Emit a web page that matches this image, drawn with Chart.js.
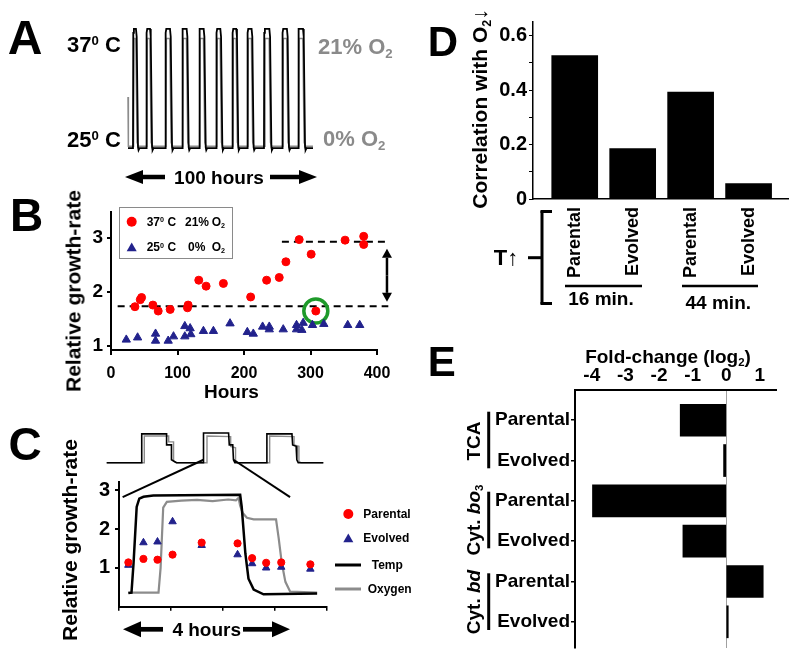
<!DOCTYPE html>
<html>
<head>
<meta charset="utf-8">
<script src="https://cdn.jsdelivr.net/npm/chart.js@4.4.0/dist/chart.umd.min.js"></script>
<style>
body { margin: 0; background: #fff; }
#fig { position: relative; width: 800px; height: 662px; overflow: hidden; font-family: "Liberation Sans", Arial, sans-serif; font-weight: bold; color: #000; }
#fig canvas { position: absolute; }
.t, .l, .v { position: absolute; white-space: nowrap; line-height: 1; z-index: 5; }
.t { transform: translate(-50%, -50%); }
.l { transform: translate(0, -50%); }
.v { transform: translate(-50%, -50%) rotate(-90deg); }
.up { position: relative; top: -0.5em; font-size: 60%; }
.dn { position: relative; top: 0.3em; font-size: 60%; }
.gray { color: #8a8a8a; }
</style>
</head>
<body>
<div id="fig">
  <canvas id="chartA" width="210" height="170" style="left:120px;top:0px"></canvas>
  <canvas id="chartB" width="380" height="210" style="left:40px;top:195px"></canvas>
  <canvas id="chartInset" width="230" height="45" style="left:100px;top:425px"></canvas>
  <canvas id="chartC" width="300" height="190" style="left:40px;top:465px"></canvas>
  <canvas id="chartD" width="330" height="310" style="left:470px;top:0px"></canvas>
  <canvas id="chartE" width="330" height="317" style="left:470px;top:345px"></canvas>
  <canvas id="decor" width="800" height="662" style="left:0;top:0;z-index:4"></canvas>

  <!-- panel A -->
  <div class="t" style="left:25px;top:37.5px;font-size:48px">A</div>
  <div class="t" style="left:94px;top:45px;font-size:22px">37<span class="up">0</span> C</div>
  <div class="t" style="left:94px;top:140px;font-size:22px">25<span class="up">0</span> C</div>
  <div class="l gray" style="left:318px;top:46.7px;font-size:22px">21% O<span class="dn">2</span></div>
  <div class="l gray" style="left:323px;top:139px;font-size:22px">0% O<span class="dn">2</span></div>
  <div class="t" style="left:219px;top:177px;font-size:19px">100 hours</div>

  <!-- panel B -->
  <div class="t" style="left:26.5px;top:215px;font-size:46px">B</div>
  <div class="v" style="left:73px;top:291px;font-size:21px">Relative growth-rate</div>
  <div class="t" style="left:231.5px;top:391px;font-size:19px">Hours</div>
  <div class="l" style="left:146.7px;top:221.7px;font-size:12px">37<span class="up">0</span> C</div>
  <div class="l" style="left:185px;top:221.7px;font-size:12px">21%</div>
  <div class="l" style="left:211.7px;top:221.7px;font-size:12px">O<span class="dn">2</span></div>
  <div class="l" style="left:146.7px;top:247.3px;font-size:12px">25<span class="up">0</span> C</div>
  <div class="l" style="left:188px;top:247.3px;font-size:12px">0%</div>
  <div class="l" style="left:211.7px;top:247.3px;font-size:12px">O<span class="dn">2</span></div>

  <!-- panel C -->
  <div class="t" style="left:25px;top:443.5px;font-size:46px">C</div>
  <div class="v" style="left:69.4px;top:540px;font-size:21px">Relative growth-rate</div>
  <div class="t" style="left:206.7px;top:629.3px;font-size:19px">4 hours</div>
  <div class="l" style="left:363.3px;top:514px;font-size:12px">Parental</div>
  <div class="l" style="left:363.3px;top:538.3px;font-size:12px">Evolved</div>
  <div class="l" style="left:371.7px;top:565px;font-size:12px">Temp</div>
  <div class="l" style="left:367.7px;top:589px;font-size:12px">Oxygen</div>

  <!-- panel D -->
  <div class="t" style="left:443px;top:41.5px;font-size:42px">D</div>
  <div class="v" style="left:479.4px;top:109px;font-size:21px">Correlation with O<span class="dn">2</span>↓</div>
  <div class="t" style="left:506px;top:257.5px;font-size:22px">T↑</div>
  <div class="t" style="left:601px;top:298.3px;font-size:19px">16 min.</div>
  <div class="t" style="left:718.3px;top:301.7px;font-size:19px">44 min.</div>

  <!-- panel E -->
  <div class="t" style="left:441.7px;top:362px;font-size:42px">E</div>
  <div class="t" style="left:668px;top:356px;font-size:19px">Fold-change (log<span class="dn">2</span>)</div>
  <div class="v" style="left:473px;top:440.7px;font-size:19px">TCA</div>
  <div class="v" style="left:473px;top:520px;font-size:19px">Cyt. <i>bo</i><span class="dn">3</span></div>
  <div class="v" style="left:473px;top:601.7px;font-size:19px">Cyt. <i>bd</i></div>
</div>

<script>
// A: temperature / oxygen cycling over 100 hours (rise and fall times, hours)
var cycleRise = [2.7, 9.9, 20.2, 29.2, 38.4, 47.7, 56.4, 64.5, 73.5, 83.4, 91.9];
var cycleFall = [5.4, 13.0, 23.8, 32.8, 42.0, 51.0, 59.6, 67.9, 77.5, 87.0, 95.7];

// B: relative growth rate vs hours
var hoursHot = [36, 44, 46, 63, 71, 89, 115, 116, 132, 143, 169, 210, 234, 253, 263, 283, 301, 308, 352, 380, 380];
var rateHot = [1.73, 1.86, 1.90, 1.76, 1.65, 1.68, 1.71, 1.76, 2.22, 2.11, 2.16, 1.91, 2.22, 2.27, 2.56, 2.97, 2.70, 1.65, 2.96, 3.03, 2.88];
var hoursCold = [23, 40, 67, 67, 86, 94, 111, 111, 119, 120, 139, 154, 179, 205, 214, 228, 238, 238, 259, 279, 279, 289, 287, 303, 320, 356, 374];
var rateCold = [1.12, 1.16, 1.23, 1.10, 1.10, 1.18, 1.37, 1.18, 1.33, 1.22, 1.28, 1.28, 1.42, 1.26, 1.23, 1.36, 1.36, 1.31, 1.31, 1.39, 1.31, 1.43, 1.30, 1.39, 1.41, 1.39, 1.39];
var levelBefore = 1.74;
var levelAfter = 2.93;
var circledHour = 308, circledRate = 1.65;
var hourTicks = [0, 100, 200, 300, 400];
var rateTicks = [1, 2, 3];

// C: one cycle, 4 hours
var cHours = [0.18, 0.47, 0.74, 1.03, 1.59, 2.28, 2.56, 2.83, 3.12, 3.68];
var parentalRate = [1.14, 1.23, 1.21, 1.34, 1.65, 1.63, 1.25, 1.13, 1.14, 1.09];
var evolvedRate = [1.07, 1.65, 1.67, 2.19, 1.58, 1.34, 1.11, 1.00, 1.02, 0.97];
var tempH = [0.18, 0.24, 0.28, 0.34, 0.39, 0.47, 0.66, 2.33, 2.36, 2.43, 2.49, 2.59, 2.78, 3.81];
var tempV = [0.35, 0.36, 1.13, 2.57, 2.78, 2.83, 2.86, 2.88, 2.57, 1.37, 0.72, 0.44, 0.32, 0.34];
var o2H = [0.18, 0.76, 0.80, 0.85, 0.92, 1.2, 1.5, 1.8, 2.1, 2.25, 2.30, 2.33, 2.38, 2.46, 2.59, 3.02, 3.07, 3.13, 3.20, 3.29, 3.81];
var o2V = [0.36, 0.36, 1.0, 2.55, 2.70, 2.73, 2.75, 2.72, 2.76, 2.74, 2.80, 2.60, 2.41, 2.29, 2.25, 2.25, 1.77, 1.13, 0.64, 0.39, 0.36];
// small overview trace above C (hours, normalised)
var insetTempH = [0, 5.03, 5.03, 8.6, 8.6, 9.3, 9.3, 10.0, 13.9, 13.9, 17.5, 17.6, 18.1, 18.2, 18.4, 23.0, 23.0, 26.6, 26.7, 27.2, 27.3, 27.5, 31.1];
var insetTempV = [0, 0, 0.97, 0.97, 0.6, 0.6, 0.1, 0, 0, 1.0, 1.0, 0.6, 0.6, 0.1, 0, 0, 0.97, 0.97, 0.6, 0.55, 0.1, 0, 0];
var insetO2H = [0, 5.4, 5.4, 8.9, 8.9, 9.6, 9.6, 10.1, 14.4, 14.4, 17.8, 17.8, 18.5, 18.5, 18.8, 23.4, 23.4, 26.9, 26.9, 27.6, 27.6, 27.9, 31.1];
var insetO2V = [0, 0, 0.9, 0.9, 0.7, 0.7, 0.05, 0, 0, 0.9, 0.88, 0.55, 0.5, 0.05, 0, 0, 0.9, 0.88, 0.6, 0.55, 0.05, 0, 0];

// D: correlation with O2 drop after T rise
var dLabels = ["Parental", "Evolved", "Parental", "Evolved"];
var dValues = [0.527, 0.185, 0.393, 0.057];

// E: fold change (log2)
var eLabels = ["Parental", "Evolved", "Parental", "Evolved", "Parental", "Evolved"];
var eValues = [-1.37, -0.08, -3.98, -1.29, 1.10, 0.06];
var foldTicks = [-4, -3, -2, -1, 0, 1];

var red = "#ff0000";
var navy = "#22228c";
var grayLine = "#8c8c8c";
var FONT = '"Liberation Sans", Arial, sans-serif';

Chart.defaults.font.family = FONT;
Chart.defaults.font.weight = "bold";
Chart.defaults.color = "#000";

function zip(xs, ys) {
    return xs.map(function (x, i) { return { x: x, y: ys[i] }; });
}
function fixTicks(list) {
    return function (scale) { scale.ticks = list.map(function (v) { return { value: v }; }); };
}
var noPlugins = { legend: { display: false }, tooltip: { enabled: false } };

// ---------- A ----------
var tempA = [{ x: 0, y: 25 }];
var o2A = [{ x: 0, y: 9 }, { x: 0.2, y: 0.3 }];
cycleRise.forEach(function (r, i) {
    var f = cycleFall[i];
    tempA.push({ x: r, y: 25 }, { x: r + 0.15, y: 36.6 }, { x: r + 0.5, y: 37 }, { x: f - 1.1, y: 37 },
        { x: f - 0.7, y: 36.2 }, { x: f, y: 25.1 }, { x: f + 0.3, y: 24.8 }, { x: f + 0.8, y: 25 });
    o2A.push({ x: r + 0.3, y: 0.3 }, { x: r + 0.55, y: 19.3 }, { x: f - 1.2, y: 19.3 },
        { x: f - 0.5, y: 1 }, { x: f + 0.2, y: 0.3 });
});
tempA.push({ x: 100, y: 25 });
o2A.push({ x: 100, y: 0.3 });

var chartA = new Chart(document.getElementById("chartA"), {
    type: "scatter",
    data: {
        datasets: [{
            data: tempA, showLine: true, borderColor: "#000", borderWidth: 1.8, pointRadius: 0, clip: false
        }, {
            data: o2A, yAxisID: "o2", showLine: true, borderColor: grayLine, borderWidth: 1.5, pointRadius: 0, clip: false
        }]
    },
    options: {
        responsive: false, animation: false, events: [],
        layout: { padding: { left: 8, right: 17, top: 24, bottom: 17 } },
        plugins: noPlugins,
        scales: {
            x: { display: false, min: 0, max: 100 },
            y: { display: false, min: 24.5, max: 37.5 },
            o2: { display: false, min: -0.875, max: 21.875 }
        }
    }
});

// ---------- B ----------
var chartB = new Chart(document.getElementById("chartB"), {
    type: "scatter",
    data: {
        datasets: [{
            data: zip(hoursHot, rateHot), pointStyle: "circle", pointRadius: 4,
            backgroundColor: red, borderColor: red, clip: false
        }, {
            data: zip(hoursCold, rateCold), pointStyle: "triangle", pointRadius: 4.8,
            backgroundColor: navy, borderColor: navy, clip: false
        }, {
            data: [{ x: circledHour, y: circledRate }], pointStyle: "circle", pointRadius: 12,
            backgroundColor: "rgba(0,0,0,0)", borderColor: "#1e9a2a", pointBorderWidth: 3.5, clip: false
        }, {
            type: "line", showLine: true, data: [{ x: 10, y: levelBefore }, { x: 417, y: levelBefore }],
            borderColor: "#000", borderWidth: 2, borderDash: [7, 5], pointRadius: 0, clip: false
        }, {
            type: "line", showLine: true, data: [{ x: 257, y: levelAfter }, { x: 417, y: levelAfter }],
            borderColor: "#000", borderWidth: 2, borderDash: [7, 5], pointRadius: 0, clip: false
        }]
    },
    options: {
        responsive: false, animation: false, events: [],
        layout: { padding: { left: 31, right: 43, top: 17, bottom: 25 } },
        plugins: noPlugins,
        scales: {
            x: {
                type: "linear", min: 0, max: 400,
                afterBuildTicks: fixTicks(hourTicks),
                afterFit: function (s) { s.height = 30; },
                grid: { drawOnChartArea: false, drawTicks: true, tickLength: 5, color: "#000", lineWidth: 2 },
                border: { display: true, color: "#000", width: 2 },
                ticks: { font: { size: 16, weight: "bold" }, padding: 9, maxRotation: 0 }
            },
            y: {
                min: 0.93, max: 3.48,
                afterBuildTicks: fixTicks(rateTicks),
                afterFit: function (s) { s.width = 40; },
                grid: { drawOnChartArea: false, drawTicks: true, tickLength: 4, color: "#000", lineWidth: 2 },
                border: { display: true, color: "#000", width: 2 },
                ticks: { font: { size: 19, weight: "bold" }, padding: 4 }
            }
        }
    }
});

// ---------- C overview ----------
var chartInset = new Chart(document.getElementById("chartInset"), {
    type: "scatter",
    data: {
        datasets: [{
            data: zip(insetTempH, insetTempV), showLine: true, borderColor: "#000", borderWidth: 1.6, pointRadius: 0, clip: false
        }, {
            data: zip(insetO2H, insetO2V), showLine: true, borderColor: grayLine, borderWidth: 1.4, pointRadius: 0, clip: false
        }]
    },
    options: {
        responsive: false, animation: false, events: [],
        layout: { padding: { left: 6.7, right: 6.7, top: 8, bottom: 7.3 } },
        plugins: noPlugins,
        scales: {
            x: { display: false, min: 0, max: 31.1 },
            y: { display: false, min: 0, max: 1 }
        }
    }
});

// ---------- C ----------
var chartC = new Chart(document.getElementById("chartC"), {
    type: "scatter",
    data: {
        datasets: [{
            data: zip(cHours, parentalRate), pointStyle: "circle", pointRadius: 3.6,
            backgroundColor: red, borderColor: red, clip: false
        }, {
            data: zip(cHours, evolvedRate), pointStyle: "triangle", pointRadius: 4.3,
            backgroundColor: navy, borderColor: navy, clip: false
        }, {
            type: "line", showLine: true, data: zip(tempH, tempV),
            borderColor: "#000", borderWidth: 2.5, pointRadius: 0, clip: false
        }, {
            type: "line", showLine: true, data: zip(o2H, o2V),
            borderColor: grayLine, borderWidth: 2.2, pointRadius: 0, clip: false
        }]
    },
    options: {
        responsive: false, animation: false, events: [],
        layout: { padding: { left: 39, right: 13, top: 9, bottom: 38.3 } },
        plugins: noPlugins,
        scales: {
            x: {
                type: "linear", min: 0, max: 4,
                afterBuildTicks: fixTicks([0, 1, 2, 3, 4]),
                afterFit: function (s) { s.height = 10; },
                grid: { drawOnChartArea: false, drawTicks: true, tickLength: 4, color: "#000", lineWidth: 1.5 },
                border: { display: true, color: "#000", width: 2 },
                ticks: { callback: function () { return ""; } }
            },
            y: {
                min: 0, max: 3.21,
                afterBuildTicks: fixTicks(rateTicks),
                afterFit: function (s) { s.width = 40; },
                grid: { drawOnChartArea: false, drawTicks: true, tickLength: 4, color: "#000", lineWidth: 2 },
                border: { display: true, color: "#000", width: 2 },
                ticks: { font: { size: 20, weight: "bold" }, padding: 5 }
            }
        }
    }
});

// ---------- D ----------
var chartD = new Chart(document.getElementById("chartD"), {
    type: "bar",
    data: {
        datasets: [{
            data: dValues.map(function (v, i) { return { x: i, y: v }; }),
            backgroundColor: "#000", barThickness: 46
        }]
    },
    options: {
        responsive: false, animation: false, events: [],
        layout: { padding: { left: 0, right: 12, top: 22, bottom: 11 } },
        plugins: noPlugins,
        scales: {
            x: {
                type: "linear", min: -0.72, max: 3.68, offset: false,
                afterBuildTicks: fixTicks([0, 1, 2, 3]),
                afterFit: function (s) { s.height = 100; },
                grid: { offset: false, drawOnChartArea: false, drawTicks: false },
                border: { display: true, color: "#000", width: 1.5 },
                ticks: {
                    autoSkip: false, minRotation: 90, maxRotation: 90, padding: 8,
                    font: { size: 18, weight: "bold" },
                    callback: function (v) { return dLabels[v]; }
                }
            },
            y: {
                min: 0, max: 0.65,
                afterBuildTicks: fixTicks([0, 0.1, 0.2, 0.3, 0.4, 0.5, 0.6]),
                afterFit: function (s) { s.width = 63; },
                grid: { drawOnChartArea: false, drawTicks: true, tickLength: 4, color: "#000", lineWidth: 1 },
                border: { display: true, color: "#000", width: 1.5 },
                ticks: {
                    font: { size: 20, weight: "bold" }, padding: 2,
                    callback: function (v, i) { return i % 2 ? "" : (v === 0 ? "0" : v.toFixed(1)); }
                }
            }
        }
    }
});

// ---------- E ----------
var chartE = new Chart(document.getElementById("chartE"), {
    type: "bar",
    data: {
        datasets: [{
            data: eValues.map(function (v, i) { return { x: v, y: i }; }),
            backgroundColor: "#000", barThickness: 32
        }]
    },
    options: {
        indexAxis: "y",
        responsive: false, animation: false, events: [],
        layout: { padding: { left: 0, right: 24, top: 20, bottom: 14 } },
        plugins: noPlugins,
        scales: {
            x: {
                type: "linear", position: "top", min: -4.5, max: 1.48,
                afterBuildTicks: fixTicks(foldTicks),
                afterFit: function (s) { s.height = 25; },
                grid: {
                    drawOnChartArea: true, drawTicks: false, lineWidth: 1,
                    color: function (ctx) { return ctx.tick && ctx.tick.value === 0 ? "#a0a0a0" : "rgba(0,0,0,0)"; }
                },
                border: { display: true, color: "#000", width: 2 },
                ticks: { font: { size: 19, weight: "bold" }, padding: 3, maxRotation: 0 }
            },
            y: {
                type: "linear", min: -0.75, max: 5.65, reverse: true, offset: false,
                afterBuildTicks: fixTicks([0, 1, 2, 3, 4, 5]),
                afterFit: function (s) { s.width = 105; },
                grid: { offset: false, drawOnChartArea: false, drawTicks: true, tickLength: 4, color: "#000", lineWidth: 1.5 },
                border: { display: true, color: "#000", width: 2 },
                ticks: {
                    font: { size: 19, weight: "bold" }, padding: 1,
                    callback: function (v) { return eLabels[v]; }
                }
            }
        }
    }
});

// ---------- arrows, brackets, legend keys ----------
var dc = document.getElementById("decor").getContext("2d");

function hArrow(x1, x2, y, head, half, width) {
    var dir = x2 > x1 ? 1 : -1;
    dc.lineWidth = width;
    dc.beginPath(); dc.moveTo(x1, y); dc.lineTo(x2 - dir * head, y); dc.stroke();
    dc.beginPath(); dc.moveTo(x2, y); dc.lineTo(x2 - dir * head, y - half); dc.lineTo(x2 - dir * head, y + half);
    dc.closePath(); dc.fill();
}
function vArrow(x, y1, y2, head, half, width) {
    var dir = y2 > y1 ? 1 : -1;
    dc.lineWidth = width;
    dc.beginPath(); dc.moveTo(x, y1); dc.lineTo(x, y2 - dir * head); dc.stroke();
    dc.beginPath(); dc.moveTo(x, y2); dc.lineTo(x - half, y2 - dir * head); dc.lineTo(x + half, y2 - dir * head);
    dc.closePath(); dc.fill();
}
function line(x1, y1, x2, y2, w, c) {
    dc.strokeStyle = c || "#000"; dc.lineWidth = w;
    dc.beginPath(); dc.moveTo(x1, y1); dc.lineTo(x2, y2); dc.stroke();
}
function tri(x, y, r, c) {
    dc.fillStyle = c;
    dc.beginPath(); dc.moveTo(x, y - r); dc.lineTo(x + r * 0.866, y + r * 0.5); dc.lineTo(x - r * 0.866, y + r * 0.5);
    dc.closePath(); dc.fill();
}
function dot(x, y, r, c) {
    dc.fillStyle = c;
    dc.beginPath(); dc.arc(x, y, r, 0, Math.PI * 2); dc.fill();
}

dc.fillStyle = "#000"; dc.strokeStyle = "#000";
// A: 100 hours
hArrow(165, 125, 177, 18, 7, 4.5);
hArrow(270, 317, 177, 18, 7, 4.5);
// C: 4 hours
hArrow(163, 123, 629.3, 18, 8, 4.7);
hArrow(243, 290, 629.3, 18, 8, 4.7);

// B: double arrow between the two levels
var bx = chartB.scales.x.getPixelForValue(415) + 40;
var byTop = chartB.scales.y.getPixelForValue(2.80) + 195;
var byBot = chartB.scales.y.getPixelForValue(1.82) + 195;
var byMid = (byTop + byBot) / 2;
vArrow(bx, byMid, byTop, 9, 5, 2.5);
vArrow(bx, byMid, byBot, 9, 5, 2.5);

// B legend box and keys
dc.strokeStyle = "#8a8a8a"; dc.lineWidth = 1;
dc.strokeRect(119.5, 207.5, 113, 51);
dot(131.7, 221.7, 5, red);
tri(131.7, 248.3, 5.8, navy);

// C: zoom lines from overview to main panel
[[13.9, 0.07], [18.2, 3.29]].forEach(function (p) {
    var x1 = chartInset.scales.x.getPixelForValue(p[0]) + 100;
    var y1 = chartInset.scales.y.getPixelForValue(0.1) + 425;
    var x2 = chartC.scales.x.getPixelForValue(p[1]) + 40;
    var y2 = chartC.scales.y.getPixelForValue(2.82) + 465;
    line(x1, y1, x2, y2, 2);
});

// C legend keys
dot(348.3, 514, 5, red);
tri(348.3, 539.3, 5.8, navy);
line(335, 565, 361, 565, 3, "#000");
line(335, 589, 361, 589, 3, grayLine);

// D: bracket and group underlines
dc.lineCap = "butt";
line(542, 211, 542, 304, 3);
line(540.5, 211.5, 552, 211.5, 3);
line(540.5, 303.5, 552, 303.5, 3);
line(528, 257.7, 542, 257.7, 3);
line(565, 286, 642, 286, 2.7);
line(682, 286, 758, 286, 2.7);

// E: group bars
line(488.7, 411.7, 488.7, 468.3, 3);
line(488.7, 491.7, 488.7, 548.3, 3);
line(488.7, 573.3, 488.7, 630, 3);
</script>
</body>
</html>
